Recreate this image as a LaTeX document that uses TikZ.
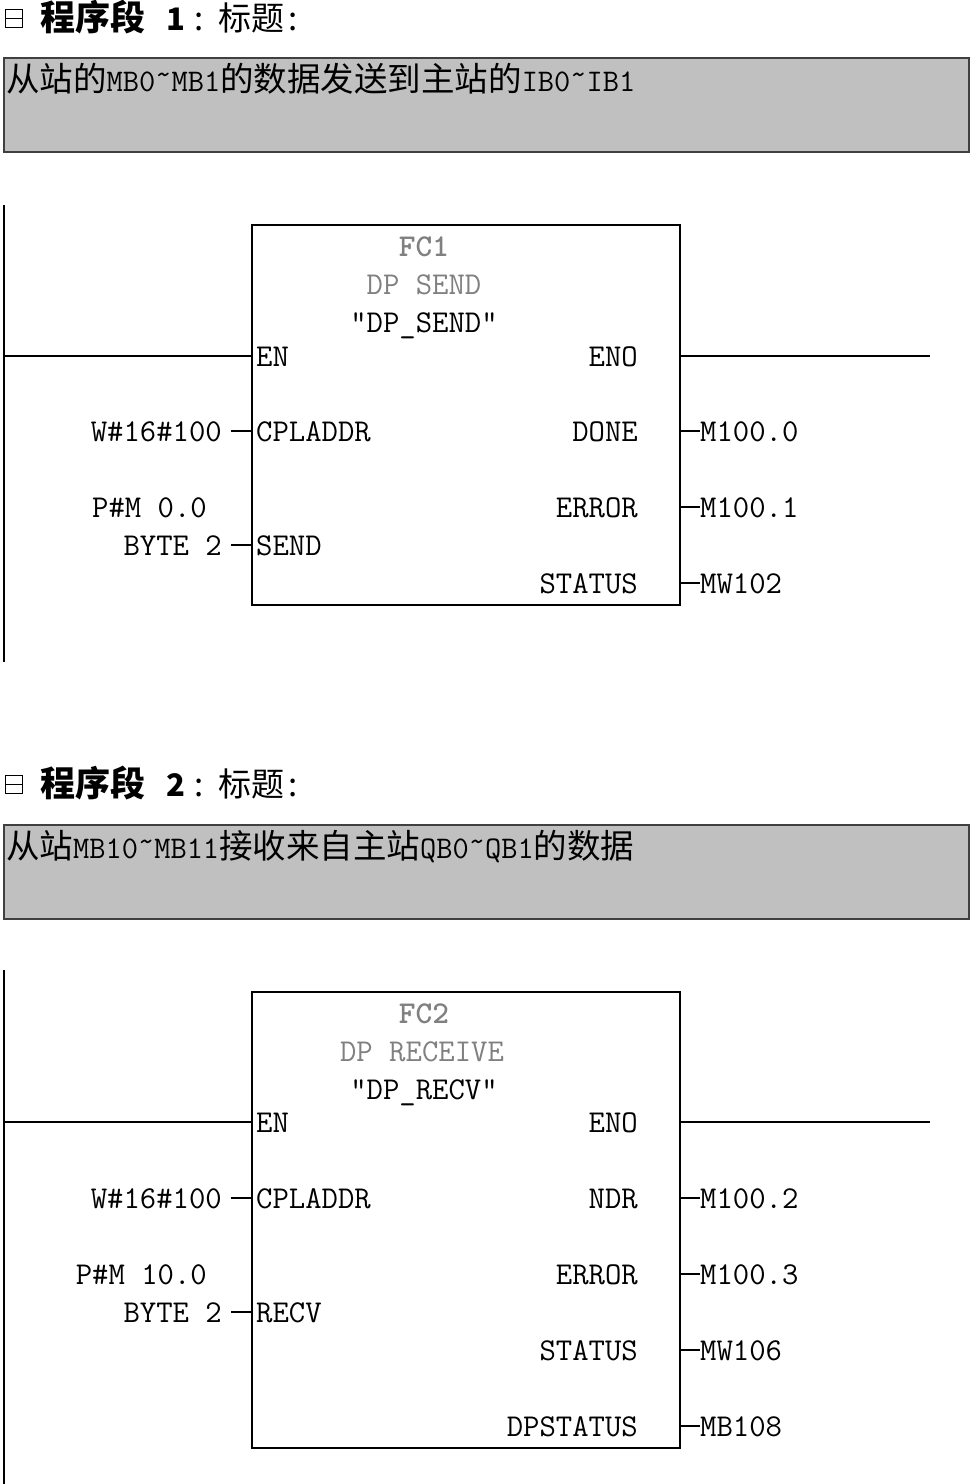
\documentclass[tikz,border=0pt]{standalone}
\usepackage{fontspec}
\newfontfamily\cjk{Noto Sans CJK SC}
\definecolor{cmtgray}{RGB}{192,192,192}
\definecolor{fcgray}{RGB}{128,128,128}
\newcommand{\pinfont}{\fontsize{31.8}{34}\selectfont\ttfamily}
\newcommand{\cmtfont}{\fontsize{33.5}{36}\selectfont\cjk}
\newcommand{\lt}[1]{{\fontsize{31.5}{34}\selectfont\ttfamily #1}}
\newcommand{\tld}{\raisebox{0.22em}{\textasciitilde}}
\begin{document}
\begin{tikzpicture}[x=1pt,y=-1pt,
  pin/.style={font=\pinfont, inner sep=0pt},
  pinl/.style={pin, anchor=base west},
  pinr/.style={pin, anchor=base east},
  hdr/.style={pin, anchor=base},
  wire/.style={line width=1.5pt},
  rail/.style={line width=2pt},
  fbox/.style={draw, line width=1.8pt, minimum width=428pt, inner sep=0pt, anchor=north west},
  cbox/.style={draw=black!75, fill=cmtgray, line width=2pt, minimum width=965pt, minimum height=94pt, inner sep=0pt, anchor=north west},
  cmt/.style={font=\cmtfont, inner sep=0pt, anchor=base west},
  ttl/.style={inner sep=0pt, anchor=base west},
  icon/.style={draw, line width=1.3pt, minimum width=17pt, minimum height=18pt, inner sep=0pt, anchor=north west}
]
\useasboundingbox (0,0) rectangle (970,1484);

% ---------------- Network 1 ----------------
\node[icon] (ic1) at (5,9) {};
\draw[line width=1.3pt] (ic1.west) -- (ic1.east);
\node[ttl, font=\fontsize{35}{38}\selectfont\cjk\bfseries] (t1a) at (40,30) {程序段};
\node[ttl, font=\fontsize{31}{34}\selectfont\cjk\bfseries] (t1b) at (166,30) {1};
\node[ttl, font=\fontsize{33}{36}\selectfont\cjk] (t1c) at (194,30) {:};
\node[ttl, font=\fontsize{33}{36}\selectfont\cjk] (t1d) at (218,30) {标题};
\node[ttl, font=\fontsize{33}{36}\selectfont\cjk] (t1e) at (288,30) {:};

\node[cbox] (cb1) at (3,57) {};
\node[cmt] (ct1) at (6,91) {从站的\lt{MB0\tld MB1}的数据发送到主站的\lt{IB0\tld IB1}};

\coordinate (r1t) at (4,205);
\coordinate (r1b) at (4,662);
\draw[rail] (r1t) -- (r1b);

\node[fbox, minimum height=380pt] (fc1) at (251,224) {};
\node[hdr, text=fcgray, font=\pinfont\bfseries] (fc1a) at (424,256) {FC1};
\node[hdr, text=fcgray] (fc1b) at (424,294) {DP SEND};
\node[hdr] (fc1c) at (424,332) {"DP\_SEND"};

% EN / ENO
\coordinate (en1) at (4,356);
\coordinate (eno1) at (930,356);
\draw[wire] (en1) -- (en1 -| fc1.west);
\draw[wire] (fc1.east |- eno1) -- (eno1);
\node[pinl] (fc1en) at (256,366) {EN};
\node[pinr] (fc1eno) at (638,366) {ENO};

% inputs
\node[pinl] (fc1p1) at (256,441) {CPLADDR};
\node[pinl] (fc1p2) at (256,555) {SEND};
\node[pinr] (in11) at (222,441) {W\#16\#100};
\node[pinr] (in12a) at (207,517) {P\#M 0.0};
\node[pinr] (in12) at (222,555) {BYTE 2};
\coordinate (d11) at (231,431);
\coordinate (d12) at (231,545);
\draw[wire] (d11) -- (d11 -| fc1.west);
\draw[wire] (d12) -- (d12 -| fc1.west);

% outputs
\node[pinr] (fc1o1) at (638,441) {DONE};
\node[pinr] (fc1o2) at (638,517) {ERROR};
\node[pinr] (fc1o3) at (638,593) {STATUS};
\coordinate (o11) at (700,431);
\coordinate (o12) at (700,507);
\coordinate (o13) at (700,583);
\draw[wire] (fc1.east |- o11) -- (o11);
\draw[wire] (fc1.east |- o12) -- (o12);
\draw[wire] (fc1.east |- o13) -- (o13);
\node[pinl] (out11) at (700,441) {M100.0};
\node[pinl] (out12) at (700,517) {M100.1};
\node[pinl] (out13) at (700,593) {MW102};

% ---------------- Network 2 ----------------
\node[icon] (ic2) at (5,775) {};
\draw[line width=1.3pt] (ic2.west) -- (ic2.east);
\node[ttl, font=\fontsize{35}{38}\selectfont\cjk\bfseries] (t2a) at (40,796) {程序段};
\node[ttl, font=\fontsize{31}{34}\selectfont\cjk\bfseries] (t2b) at (166,796) {2};
\node[ttl, font=\fontsize{33}{36}\selectfont\cjk] (t2c) at (194,796) {:};
\node[ttl, font=\fontsize{33}{36}\selectfont\cjk] (t2d) at (218,796) {标题};
\node[ttl, font=\fontsize{33}{36}\selectfont\cjk] (t2e) at (288,796) {:};

\node[cbox] (cb2) at (3,824) {};
\node[cmt] (ct2) at (6,858) {从站\lt{MB10\tld MB11}接收来自主站\lt{QB0\tld QB1}的数据};

\coordinate (r2t) at (4,970);
\coordinate (r2b) at (4,1484);
\draw[rail] (r2t) -- (r2b);

\node[fbox, minimum height=456pt] (fc2) at (251,991) {};
\node[hdr, text=fcgray, font=\pinfont\bfseries] (fc2a) at (424,1023) {FC2};
\node[hdr, text=fcgray] (fc2b) at (422,1061) {DP RECEIVE};
\node[hdr] (fc2c) at (424,1099) {"DP\_RECV"};

\coordinate (en2) at (4,1122);
\coordinate (eno2) at (930,1122);
\draw[wire] (en2) -- (en2 -| fc2.west);
\draw[wire] (fc2.east |- eno2) -- (eno2);
\node[pinl] (fc2en) at (256,1132) {EN};
\node[pinr] (fc2eno) at (638,1132) {ENO};

\node[pinl] (fc2p1) at (256,1208) {CPLADDR};
\node[pinl] (fc2p2) at (256,1322) {RECV};
\node[pinr] (in21) at (222,1208) {W\#16\#100};
\node[pinr] (in22a) at (207,1284) {P\#M 10.0};
\node[pinr] (in22) at (222,1322) {BYTE 2};
\coordinate (d21) at (231,1198);
\coordinate (d22) at (231,1312);
\draw[wire] (d21) -- (d21 -| fc2.west);
\draw[wire] (d22) -- (d22 -| fc2.west);

\node[pinr] (fc2o1) at (638,1208) {NDR};
\node[pinr] (fc2o2) at (638,1284) {ERROR};
\node[pinr] (fc2o3) at (638,1360) {STATUS};
\node[pinr] (fc2o4) at (638,1436) {DPSTATUS};
\coordinate (o21) at (700,1198);
\coordinate (o22) at (700,1274);
\coordinate (o23) at (700,1350);
\coordinate (o24) at (700,1426);
\draw[wire] (fc2.east |- o21) -- (o21);
\draw[wire] (fc2.east |- o22) -- (o22);
\draw[wire] (fc2.east |- o23) -- (o23);
\draw[wire] (fc2.east |- o24) -- (o24);
\node[pinl] (out21) at (700,1208) {M100.2};
\node[pinl] (out22) at (700,1284) {M100.3};
\node[pinl] (out23) at (700,1360) {MW106};
\node[pinl] (out24) at (700,1436) {MB108};
\end{tikzpicture}
\end{document}
